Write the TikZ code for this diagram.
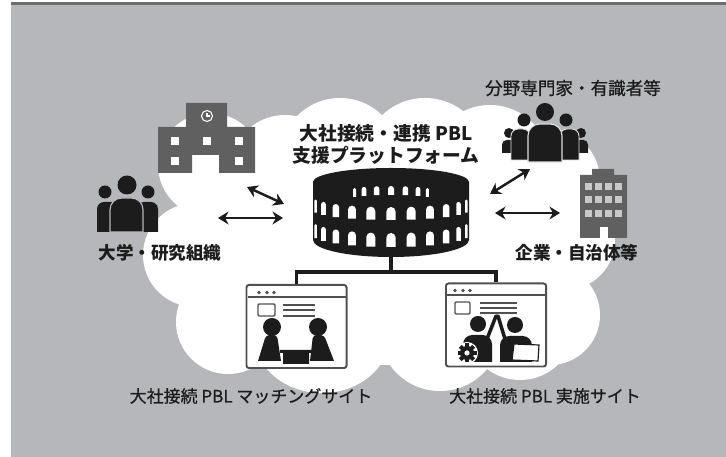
\documentclass[tikz,border=0pt]{standalone}
\usepackage{fontspec}
\newfontfamily\jp{Noto Sans CJK JP}
\newfontfamily\jpmed{Noto Sans CJK JP}[FakeBold=0.8]
\usetikzlibrary{arrows.meta}

\definecolor{bggray}{RGB}{181,183,186}
\definecolor{rimgray}{RGB}{108,109,111}
\definecolor{bldg}{RGB}{96,96,96}
\definecolor{ink}{RGB}{28,28,28}
\definecolor{frame}{RGB}{80,80,80}
\definecolor{winlite}{RGB}{200,200,200}

\tikzset{
  lab/.style={inner sep=0pt, text=ink, font={\jp\bfseries\fontsize{15}{18}\selectfont}},
  labthin/.style={inner sep=0pt, text=ink, font={\jpmed\fontsize{15}{18}\selectfont}},
  sitelab/.style={inner sep=0pt, text=ink, font={\jpmed\fontsize{14.5}{18}\selectfont}},
  biarrow/.style={{Stealth[length=9pt,width=11pt]}-{Stealth[length=9pt,width=11pt]}, line width=2.1pt, draw=ink},
  webwin/.style={draw=frame, line width=1.7pt, fill=white, rounded corners=2pt,
    minimum width=3cm, minimum height=2.49cm, inner sep=0pt},
  thinline/.style={draw=frame, line width=0.9pt},
}

\begin{document}
\begin{tikzpicture}[x=0.03cm,y=0.03cm]
\useasboundingbox (0,0) rectangle (726,457);
\fill[white] (0,0) rectangle (726,457);
\fill[bggray] (11,0) rectangle (726,452);
\fill[rimgray] (11,452) rectangle (726,454.5);

% cloud
\fill[white] (390,212) ellipse [x radius=200, y radius=120]
  (285,287) circle (55) (340,299) circle (60) (425,297) circle (62)
  (490,292) circle (60) (550,277) circle (50) (565,217) circle (50)
  (550,142) circle (50) (520,132) circle (55)
  (440,124) ellipse [x radius=60, y radius=58]
  (322,122) ellipse [x radius=68, y radius=58]
  (228,135) circle (52) (195,202) circle (52) (210,292) circle (52);

% university building
\fill[bldg] (158,284) -- (158,330) -- (186,330) -- (186,354) -- (227,354) -- (227,330)
  -- (255,330) -- (255,284) -- (219,284) -- (219,302) -- (192,302) -- (192,284) -- cycle;
\foreach \wx/\wy in {171/312, 203/312, 235/312, 171/292, 235/292}
  \fill[white] (\wx,\wy) rectangle ++(8,8);
\draw[white, line width=0.9pt] (207,341) circle (5.5);
\draw[white, line width=0.9pt] (207,344) -- (207,341) -- (210,341);

% university people
\foreach \hx/\bx in {105/97, 148/137} {
  \fill[ink] (\hx,265) circle (6.5);
  \fill[ink] (\bx,225) [rounded corners=6pt] -- (\bx,255) -- (\bx+21,255) [sharp corners] -- (\bx+21,225) -- cycle;
}
\filldraw[fill=ink, draw=bggray, line width=1pt] (110,225) [rounded corners=10pt] -- (110,259) -- (143,259) [sharp corners] -- (143,225) -- cycle;
\fill[ink] (127,272) circle (9.5);

% experts
\foreach \hx/\bx in {509/502, 581/574} {
  \fill[ink] (\hx,324) circle (5);
  \fill[ink] (\bx,304) [rounded corners=4pt] -- (\bx,317) -- (\bx+14,317) [sharp corners] -- (\bx+14,304) -- cycle;
}
\foreach \hx/\bx in {524/511, 566/560} {
  \fill[ink] (\hx,337) circle (6.5);
  \filldraw[fill=ink, draw=white!55!bggray, line width=0.8pt] (\bx,297) [rounded corners=6pt] -- (\bx,328) -- (\bx+19,328) [sharp corners] -- (\bx+19,297) -- cycle;
}
\filldraw[fill=ink, draw=white!55!bggray, line width=1pt] (528,295) [rounded corners=10pt] -- (528,333) -- (562,333) [sharp corners] -- (562,295) -- cycle;
\fill[ink] (545,345) circle (9);

% company building
\fill[bldg] (580,219) rectangle (627,282) (592,282) rectangle (614,288);
\foreach \c in {0,...,3}
  \foreach \r in {0,1,2}
    \fill[winlite] (585+10*\c,240+13.5*\r) rectangle ++(7,7);
\fill[white] (600,219) rectangle (608,230);

% labels
\node[lab] (uni-lab) at (160,204) {大学・研究組織};
\node[lab] (corp-lab) at (577,204) {企業・自治体等};
\node[labthin] (expert-lab) at (573,369) {分野専門家・有識者等};
\node[lab, align=center, font={\jp\bfseries\fontsize{16}{18.7}\selectfont}] (plat-lab) at (386,313) {大社接続・連携 PBL\\支援プラットフォーム};

% arrows to the platform
\coordinate (bldg-end) at (247,270);
\coordinate (plat-nw) at (284,253);
\coordinate (uni-end) at (218,239);
\coordinate (plat-w) at (283,239);
\coordinate (plat-ne) at (490,263);
\coordinate (expert-end) at (530,288);
\coordinate (plat-e) at (495,244);
\coordinate (corp-end) at (560,244);
\draw[biarrow] (bldg-end) -- (plat-nw);
\draw[biarrow] (uni-end) -- (plat-w);
\draw[biarrow] (plat-ne) -- (expert-end);
\draw[biarrow] (plat-e) -- (corp-end);

% the two sites
\node[webwin] (match-win) at (296.5,130.5) {};
\node[webwin] (exec-win) at (496,132) {};
\coordinate (colo) at (391,205);
\coordinate (junc) at (391,185);
\draw[ink, line width=3pt] (colo) -- (junc) -| (match-win.north);
\draw[ink, line width=3pt] (junc) -| (exec-win.north);

% colosseum
\fill[ink] (313,275) -- (313,217) arc[start angle=180, end angle=360, x radius=78, y radius=17]
  -- (469,275) arc[start angle=0, end angle=180, x radius=78, y radius=14] -- cycle;
\foreach \p in {195,210,...,345} {
  \pgfmathsetmacro\cx{391+78*cos(\p)}
  \pgfmathsetmacro\hw{4.6*abs(sin(\p))}
  \pgfmathsetmacro\ya{247+10*sin(\p)}
  \pgfmathsetmacro\yb{222+12*sin(\p)}
  \fill[white] (\cx-\hw,\ya) -- ++(0,13-\hw) arc[start angle=180, end angle=0, radius=\hw] -- ++(0,\hw-13) -- cycle;
  \fill[white] (\cx-\hw,\yb) -- ++(0,14-\hw) arc[start angle=180, end angle=0, radius=\hw] -- ++(0,\hw-14) -- cycle;
}
\foreach \p in {30,50,...,150} {
  \pgfmathsetmacro\cx{391+42*cos(\p)}
  \pgfmathsetmacro\hw{3*sin(\p)}
  \pgfmathsetmacro\ya{258+4*sin(\p)}
  \fill[white] (\cx-\hw,\ya) -- ++(0,9-\hw) arc[start angle=180, end angle=0, radius=\hw] -- ++(0,\hw-9) -- cycle;
}

% matching site window
\draw[frame, line width=1.4pt] (247.5,160) -- (345.5,160);
\foreach \dx in {259,267,274} \fill[frame] (\dx,164.5) circle (1.8);
\draw[frame, line width=1.2pt, rounded corners=1pt] (258,141) rectangle (275,153);
\foreach \ly in {152,147,141} \draw[thinline] (283,\ly) -- (315,\ly);
\fill[ink] (272,130) circle (9);
\fill[ink] (318,130) circle (9);
\fill[ink] (258,96) [rounded corners=3pt] -- (266,122) -- (277,122) [sharp corners] -- (281,96) -- cycle;
\fill[ink] (310,96) [rounded corners=3pt] -- (313,122) -- (324,122) [sharp corners] -- (334,96) -- cycle;
\fill[ink] (280,104) rectangle (313,107) (283,93) rectangle (309,104);

% implementation site window
\draw[frame, line width=1.4pt] (447,162) -- (545,162);
\foreach \dx in {455,463,470} \fill[frame] (\dx,166.5) circle (1.8);
\draw[frame, line width=1.2pt, rounded corners=1pt] (455,143) rectangle (470,155);
\foreach \ly in {154,149,144} \draw[thinline] (480,\ly) -- (517,\ly);
\fill[ink] (478,133) circle (8);
\fill[ink] (515,132) circle (8);
\fill[ink] (463,95) [rounded corners=8pt] -- (463,122) -- (492,122) [sharp corners] -- (492,95) -- cycle;
\fill[ink] (500,95) [rounded corners=8pt] -- (500,121) -- (532,121) [sharp corners] -- (532,95) -- cycle;
\draw[ink, line width=3pt, line cap=round] (487,118) -- (496,141);
\draw[ink, line width=3pt, line cap=round] (505,118) -- (498,141);
\fill[white] (467,104) circle (11);
\fill[ink] (467,104) circle (7);
\foreach \a in {0,45,...,315}
  \fill[ink, shift={(467,104)}, rotate=\a] (-2,6) rectangle (2,9.5);
\fill[white] (467,104) circle (2.6);
\filldraw[fill=white, draw=ink, line width=1pt] (512,97) -- (538,96) -- (539,112) -- (514,113) -- cycle;

% site labels
\node[sitelab] (match-lab) at (251,61) {大社接続 PBL マッチングサイト};
\node[sitelab] (exec-lab) at (545,61) {大社接続 PBL 実施サイト};
\end{tikzpicture}
\end{document}
